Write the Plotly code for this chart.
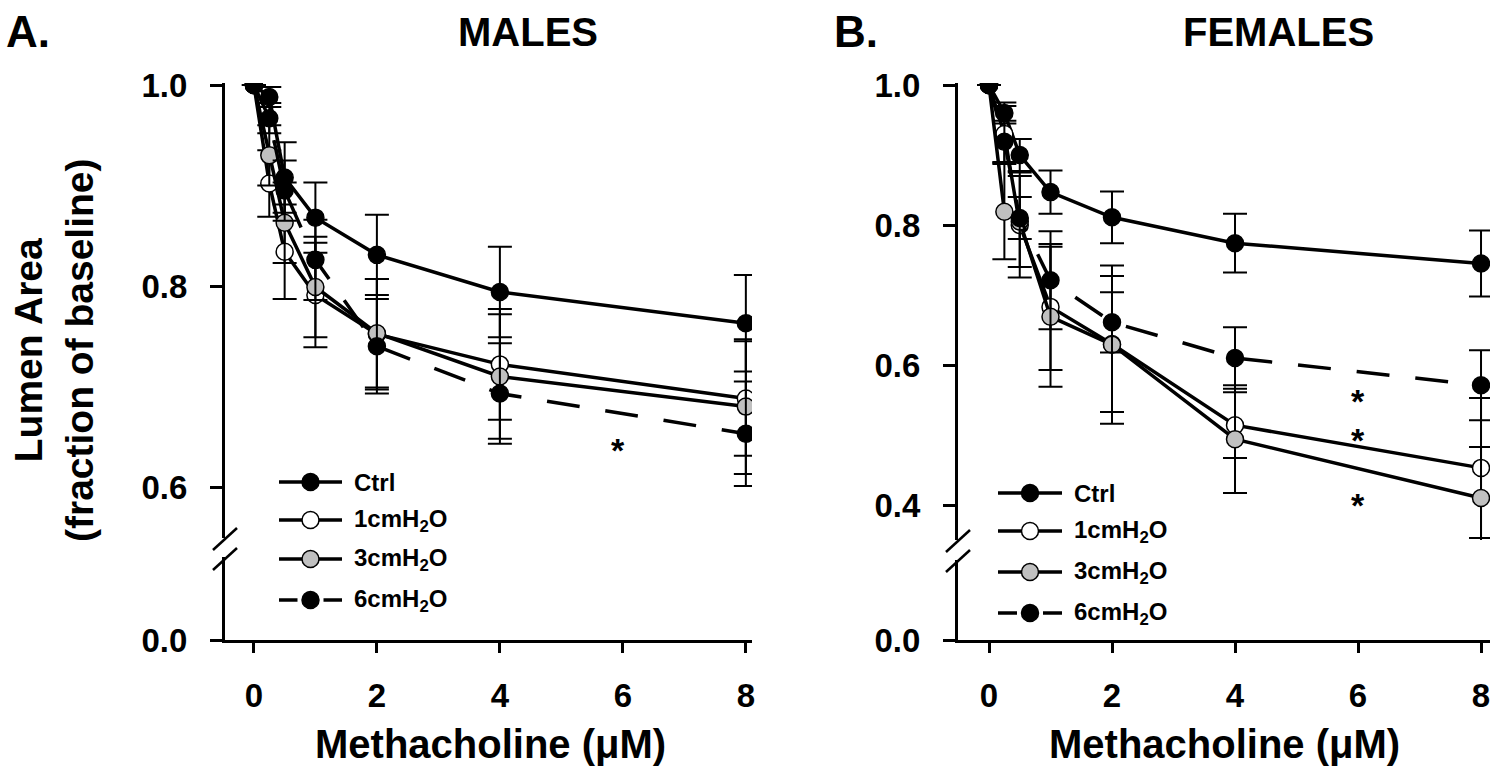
import plotly.graph_objects as go

# ---------------- data ----------------
conc = [0, 0.25, 0.5, 1, 2, 4, 8]
series_names = ["Ctrl", "1cmH<sub>2</sub>O", "3cmH<sub>2</sub>O", "6cmH<sub>2</sub>O"]

# Males (panel A)
ctrl_m = [1.0, 0.988, 0.908, 0.868, 0.831, 0.794, 0.763]
ctrl_m_err = [None, 0.010, 0.035, 0.035, 0.040, 0.045, 0.048]
c1_m = [1.0, 0.902, 0.834, 0.791, 0.752, 0.722, 0.688]
c1_m_err = [None, 0.033, 0.047, 0.052, 0.055, 0.055, 0.057]
c3_m = [1.0, 0.930, 0.863, 0.799, 0.753, 0.710, 0.680]
c3_m_err = [None, 0.030, 0.040, 0.050, 0.054, 0.062, 0.067]
c6_m = [1.0, 0.967, 0.895, 0.826, 0.740, 0.693, 0.653]
c6_m_err = [None, 0.015, 0.030, 0.040, 0.047, 0.050, 0.052]

# Females (panel B)
ctrl_f = [1.0, 0.960, 0.900, 0.847, 0.811, 0.774, 0.745]
ctrl_f_err = [None, 0.015, 0.023, 0.031, 0.037, 0.042, 0.047]
c1_f = [1.0, 0.930, 0.800, 0.683, 0.630, 0.514, 0.453]
c1_f_err = [None, 0.040, 0.075, 0.090, 0.097, 0.047, 0.100]
c3_f = [1.0, 0.819, 0.805, 0.669, 0.629, 0.494, 0.410]
c3_f_err = [None, 0.068, 0.065, 0.100, 0.113, 0.077, 0.073]
c6_f = [1.0, 0.919, 0.810, 0.721, 0.661, 0.610, 0.571]
c6_f_err = [None, 0.030, 0.030, 0.070, 0.043, 0.044, 0.050]

# significance asterisks
star_m_x = [5.92]
star_m_y = [0.645]
star_f_x = [6.0, 6.0, 6.0]
star_f_y = [0.560, 0.504, 0.411]

x_ticks = [0, 2, 4, 6, 8]
y_ticks_m = [0.6, 0.8, 1.0]
y_ticks_f = [0.4, 0.6, 0.8, 1.0]

# ---------------- styling ----------------
W, H = 1500, 783
FONT = "Liberation Sans, Arial, sans-serif"
GRAY = "#c0c0c0"
styles = [
    dict(fill="black", dash="solid"),
    dict(fill="white", dash="solid"),
    dict(fill=GRAY, dash="solid"),
    dict(fill="black", dash="33px,26px"),
]


def px(xp):
    return xp / W


def py(yp):
    return 1 - yp / H


fig = go.Figure()


def add_panel(xa, ya, ya_low, ys, errs):
    for name, yv, ev, st in zip(series_names, ys, errs, styles):
        fig.add_trace(go.Scatter(
            x=conc, y=yv, mode="lines+markers", name=name,
            xaxis=xa, yaxis=ya, showlegend=False,
            line=dict(color="black", width=3.5, dash=st["dash"]),
            marker=dict(size=17, color=st["fill"], line=dict(color="black", width=1.5)),
            error_y=dict(type="data", array=ev, visible=True, color="black",
                         thickness=2, width=12),
        ))
    # empty trace so that the lower (broken) axis segment is created
    fig.add_trace(go.Scatter(x=[], y=[], xaxis=xa, yaxis=ya_low, showlegend=False,
                             hoverinfo="skip"))


add_panel("x", "y", "y2", [ctrl_m, c1_m, c3_m, c6_m], [ctrl_m_err, c1_m_err, c3_m_err, c6_m_err])
add_panel("x2", "y3", "y4", [ctrl_f, c1_f, c3_f, c6_f], [ctrl_f_err, c1_f_err, c3_f_err, c6_f_err])

tickfont = dict(family=FONT, size=33, color="black", weight="bold")
axis_common = dict(showline=True, linewidth=3, linecolor="black", showgrid=False,
                   zeroline=False, ticks="outside", tickwidth=3, tickcolor="black",
                   tickfont=tickfont, fixedrange=True)

# Panel A geometry (pixels)
A_x0, A_x1 = 225, 752
A_up_top, A_up_bot = 83, 538
A_lo_top, A_lo_bot = 557, 640
# Panel B geometry (pixels)
B_x0, B_x1 = 958, 1490
B_up_top, B_up_bot = 83, 540
B_lo_top, B_lo_bot = 560, 640

fig.update_layout(
    width=W, height=H,
    margin=dict(l=0, r=0, t=0, b=0, autoexpand=False),
    paper_bgcolor="white", plot_bgcolor="white",
    xaxis=dict(domain=[px(A_x0), px(A_x1)], range=[-0.47, 8.1], anchor="y2",
               tickvals=x_ticks, ticklen=10, ticklabelstandoff=14, **axis_common),
    yaxis=dict(domain=[py(A_up_bot), py(A_up_top)],
               range=[0.6 - (A_up_bot - 487) / 1005, 1 + (85 - A_up_top) / 1005],
               anchor="x", tickvals=y_ticks_m, ticktext=[f"{v:.1f}" for v in y_ticks_m],
               ticklen=12, ticklabelstandoff=16, **axis_common),
    yaxis2=dict(domain=[py(A_lo_bot), py(A_lo_top)],
                range=[0, (A_lo_bot - A_lo_top) / 1005],
                anchor="x", tickvals=[0], ticktext=["0.0"],
                ticklen=12, ticklabelstandoff=16, **axis_common),
    xaxis2=dict(domain=[px(B_x0), px(B_x1)], range=[-0.504, 8.146], anchor="y4",
                tickvals=x_ticks, ticklen=10, ticklabelstandoff=14, **axis_common),
    yaxis3=dict(domain=[py(B_up_bot), py(B_up_top)],
                range=[0.4 - (B_up_bot - 505) / 700, 1 + (85 - B_up_top) / 700],
                anchor="x2", tickvals=y_ticks_f, ticktext=[f"{v:.1f}" for v in y_ticks_f],
                ticklen=12, ticklabelstandoff=16, **axis_common),
    yaxis4=dict(domain=[py(B_lo_bot), py(B_lo_top)],
                range=[0, (B_lo_bot - B_lo_top) / 700],
                anchor="x2", tickvals=[0], ticktext=["0.0"],
                ticklen=12, ticklabelstandoff=16, **axis_common),
)

shapes = []
annotations = []

# axis break marks
for (ax, c1, c2) in [(A_x0, 539, 559), (B_x0, 541, 561)]:
    for cy in (c1, c2):
        shapes.append(dict(type="line", xref="paper", yref="paper",
                           x0=px(ax - 12), y0=py(cy + 11), x1=px(ax + 12), y1=py(cy - 11),
                           line=dict(color="black", width=2.5)))

# asterisks
for sx, sy in zip(star_m_x, star_m_y):
    annotations.append(dict(x=sx, y=sy, xref="x", yref="y", text="<b>*</b>", showarrow=False,
                            font=dict(family=FONT, size=34, color="black"), yshift=-8))
for sx, sy in zip(star_f_x, star_f_y):
    annotations.append(dict(x=sx, y=sy, xref="x2", yref="y3", text="<b>*</b>", showarrow=False,
                            font=dict(family=FONT, size=34, color="black"), yshift=-8))


# manual legends
def add_legend(lx0, lx1, tx, rows):
    mx = (lx0 + lx1) / 2
    r = 8.5
    for name, st, ry in zip(series_names, styles, rows):
        if st["dash"] == "solid":
            shapes.append(dict(type="line", xref="paper", yref="paper",
                               x0=px(lx0), x1=px(lx1), y0=py(ry), y1=py(ry),
                               line=dict(color="black", width=3.5)))
        else:
            for a, b in ((lx0, mx - 13), (mx + 13, lx1)):
                shapes.append(dict(type="line", xref="paper", yref="paper",
                                   x0=px(a), x1=px(b), y0=py(ry), y1=py(ry),
                                   line=dict(color="black", width=3.5)))
        shapes.append(dict(type="circle", xref="paper", yref="paper",
                           x0=px(mx - r), x1=px(mx + r), y0=py(ry + r), y1=py(ry - r),
                           fillcolor=st["fill"], line=dict(color="black", width=1.5)))
        annotations.append(dict(x=px(tx), y=py(ry), xref="paper", yref="paper",
                                xanchor="left", yanchor="middle", showarrow=False,
                                text=f"<b>{name}</b>",
                                font=dict(family=FONT, size=24, color="black")))


add_legend(279, 342, 352, [482, 520, 559, 600])
add_legend(998, 1062, 1072, [493, 531, 572, 613])


# titles and labels
def label(text, xp, yp, size, angle=0):
    annotations.append(dict(x=px(xp), y=py(yp), xref="paper", yref="paper",
                            xanchor="center", yanchor="middle", showarrow=False,
                            text=f"<b>{text}</b>", textangle=angle,
                            font=dict(family=FONT, size=size, color="black")))


label("A.", 28, 32, 44)
label("MALES", 528, 32, 40)
label("B.", 856, 32, 44)
label("FEMALES", 1278, 32, 40)
label("Methacholine (\u03bcM)", 490, 744, 40)
label("Methacholine (\u03bcM)", 1224, 744, 40)
label("Lumen Area<br>(fraction of baseline)", 54, 350, 39, angle=-90)

fig.update_layout(shapes=shapes, annotations=annotations)

fig.write_html("out.html", config={"displayModeBar": False},
               post_script="document.body.style.margin='0';document.body.style.padding='0';")
